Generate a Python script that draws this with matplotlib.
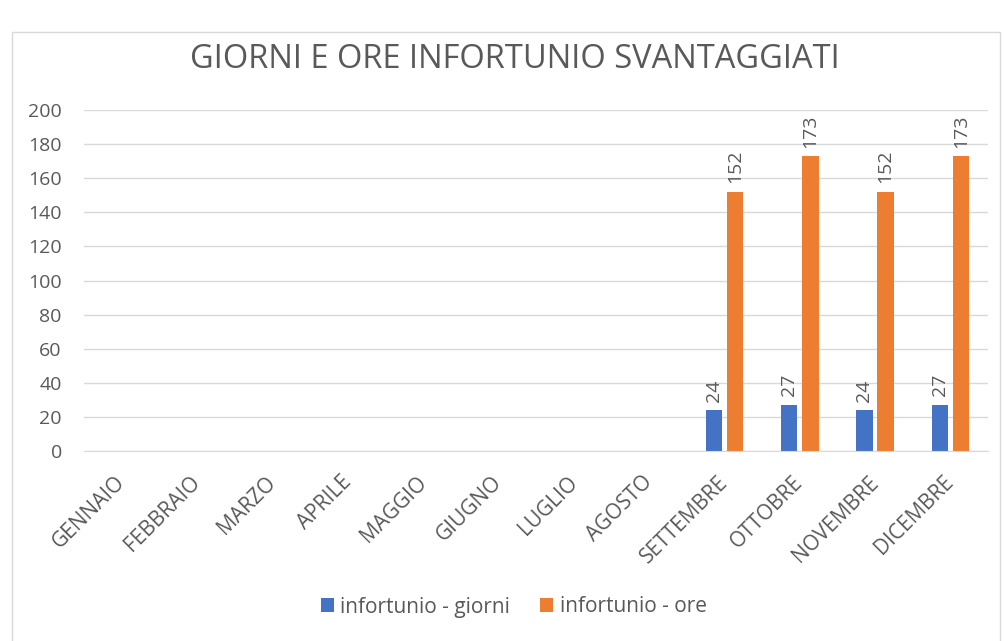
import numpy as np
import matplotlib.pyplot as plt
import matplotlib.transforms as mtransforms
from matplotlib.patches import Rectangle

mesi = ['GENNAIO', 'FEBBRAIO', 'MARZO', 'APRILE', 'MAGGIO', 'GIUGNO',
        'LUGLIO', 'AGOSTO', 'SETTEMBRE', 'OTTOBRE', 'NOVEMBRE', 'DICEMBRE']
giorni = [0, 0, 0, 0, 0, 0, 0, 0, 24, 27, 24, 27]
ore = [0, 0, 0, 0, 0, 0, 0, 0, 152, 173, 152, 173]

plt.rcParams['font.family'] = ['Open Sans', 'DejaVu Sans']
grigio = '#595959'

fig = plt.figure(figsize=(10.05, 6.41), dpi=100)
fig.patches.append(Rectangle((12 / 1005, -0.01), 988 / 1005, 1 - 32 / 641 + 0.01,
                             transform=fig.transFigure, fill=False,
                             edgecolor='#D9D9D9', linewidth=1))
ax = fig.add_axes([84 / 1005, 1 - 451 / 641, 904 / 1005, 341 / 641])

x = np.arange(len(mesi))
w = 0.22
b1 = ax.bar(x - 0.14, giorni, w, color='#4472C4')
b2 = ax.bar(x + 0.14, ore, w, color='#ED7D31')

for bars, vals in ((b1, giorni), (b2, ore)):
    for r, v in zip(bars, vals):
        if v:
            ax.text(r.get_x() + r.get_width() / 2, v + 5, str(v), rotation=90,
                    ha='center', va='bottom', fontsize=14, color=grigio)

ax.set_xlim(-0.5, 11.5)
ax.set_ylim(0, 200)
ax.set_yticks(range(0, 201, 20))
ax.yaxis.grid(True, color='#D9D9D9', linewidth=1)
ax.set_axisbelow(True)
for s in ['top', 'right', 'left']:
    ax.spines[s].set_visible(False)
ax.spines['bottom'].set_color('#D9D9D9')
ax.tick_params(length=0, colors=grigio, labelsize=14)
ax.tick_params(axis='y', pad=16)
ax.tick_params(axis='x', labelsize=15, pad=15)
ax.set_xticks(x)
ax.set_xticklabels(mesi, rotation=45, ha='right', rotation_mode='anchor')
sposta = mtransforms.ScaledTranslation(-0.07, 0, fig.dpi_scale_trans)
for t in ax.get_xticklabels():
    t.set_transform(t.get_transform() + sposta)

fig.text(0.512, 1 - 59 / 641, 'GIORNI E ORE INFORTUNIO SVANTAGGIATI', ha='center', va='center',
         fontsize=23.5, color=grigio)

fig.legend([b1, b2], ['infortunio - giorni', 'infortunio - ore'], loc='center',
           bbox_to_anchor=(0.511, 1 - 607 / 641), ncol=2, frameon=False, fontsize=15,
           labelcolor=grigio, handlelength=0.65, handleheight=0.65, columnspacing=1.42,
           handletextpad=0.3)

fig.savefig('out.png', dpi=100)
